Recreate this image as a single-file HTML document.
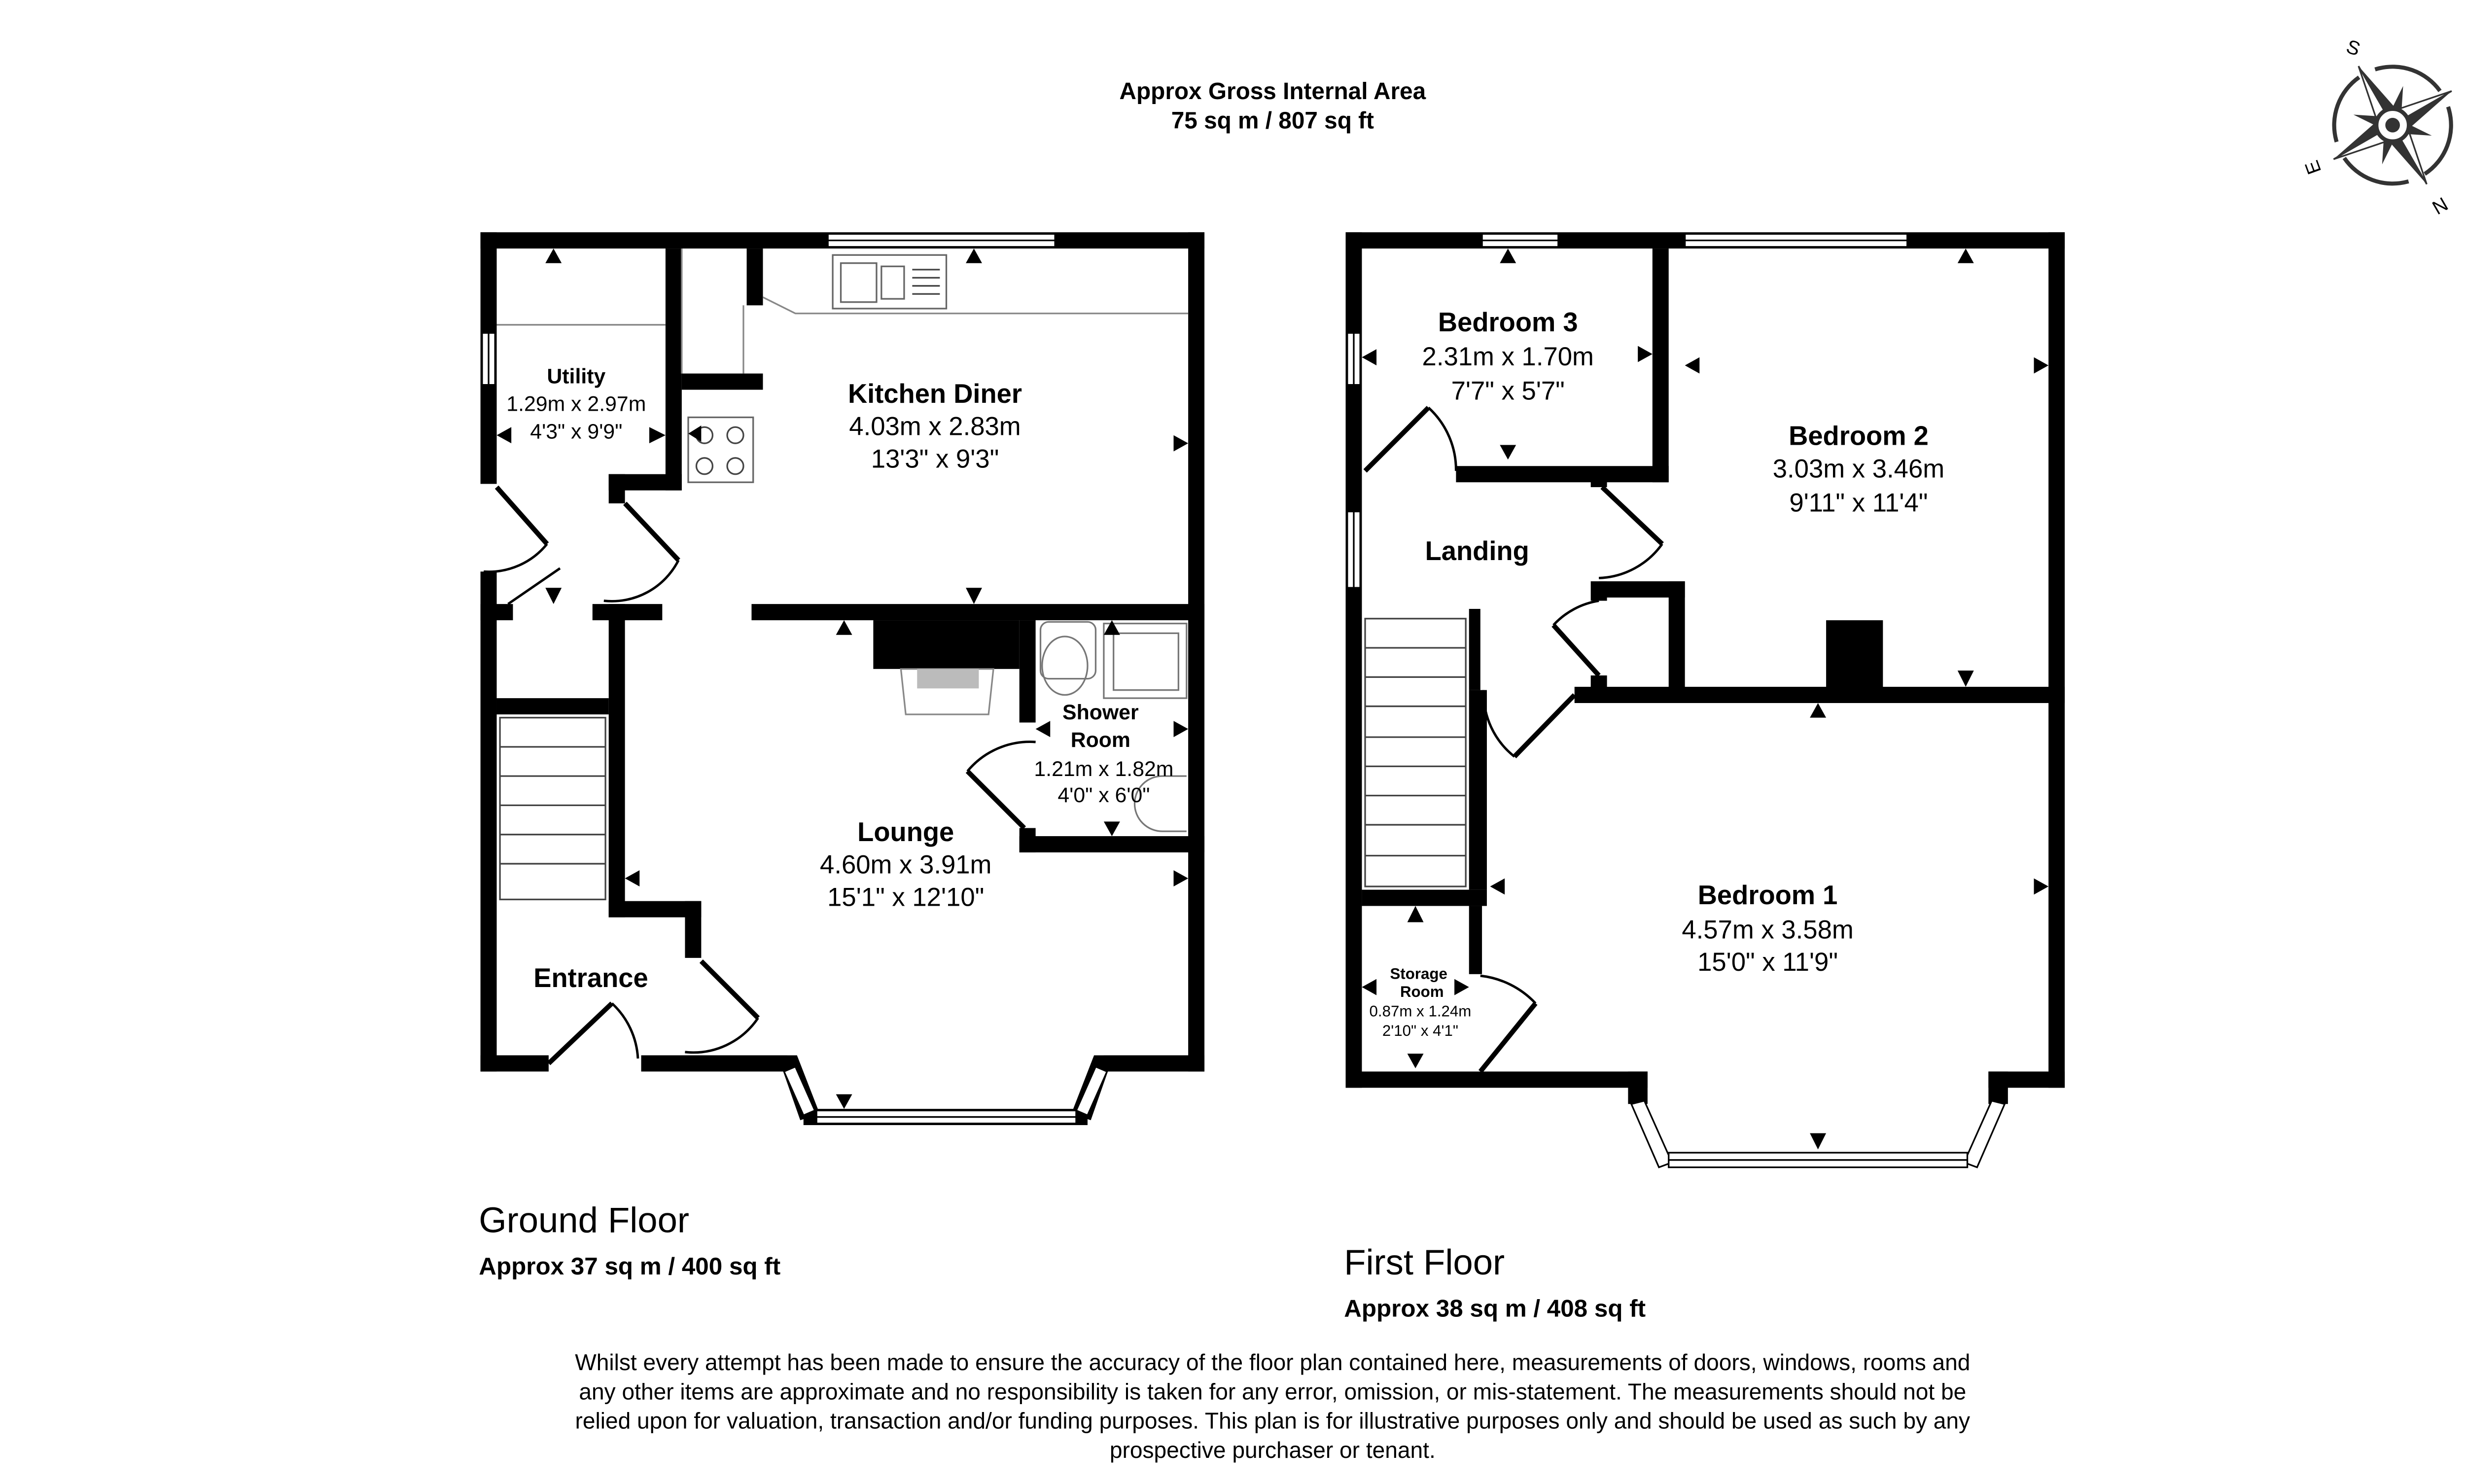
<!DOCTYPE html>
<html><head><meta charset="utf-8"><style>
html,body{margin:0;padding:0;background:#fff}
svg{display:block}
text{font-family:"Liberation Sans",Arial,sans-serif;fill:#000}
.b{font-weight:bold}
</style></head><body>
<svg width="5110" height="3010" viewBox="0 0 1552 914" xmlns="http://www.w3.org/2000/svg">
<rect width="1552" height="914" fill="#fff"/>

<text x="784" y="61" font-size="14.5" class="b" text-anchor="middle">Approx Gross Internal Area</text>
<text x="784" y="79" font-size="14.5" class="b" text-anchor="middle">75 sq m / 807 sq ft</text>

<g transform="translate(1474,77)">
 <g transform="rotate(150)" fill="#333">
  <path d="M0,-42 L7,-7 L0,0 Z"/><path d="M0,-42 L-7,-7 L0,0 Z" fill="#fff" stroke="#333" stroke-width="1"/>
  <path d="M0,42 L-7,7 L0,0 Z"/><path d="M0,42 L7,7 L0,0 Z" fill="#fff" stroke="#333" stroke-width="1"/>
  <path d="M42,0 L7,7 L0,0 Z"/><path d="M42,0 L7,-7 L0,0 Z" fill="#fff" stroke="#333" stroke-width="1"/>
  <path d="M-42,0 L-7,-7 L0,0 Z"/><path d="M-42,0 L-7,7 L0,0 Z" fill="#fff" stroke="#333" stroke-width="1"/>
  <g transform="rotate(45)"><path d="M0,-25 L5,0 L0,25 L-5,0Z"/><path d="M-25,0 L0,5 L25,0 L0,-5Z"/></g>
 </g>
 <circle r="36" fill="none" stroke="#333" stroke-width="2.5" stroke-dasharray="45 11" transform="rotate(-15)"/>
 <circle r="10" fill="#fff" stroke="#333" stroke-width="2.5"/><circle r="4.5" fill="#333"/>
 <text x="-28" y="-45" font-size="12" fill="#333" transform="rotate(20 -28 -49)">S</text>
 <text x="46" y="-23" font-size="12" fill="#333" transform="rotate(60 48 -27)">W</text>
 <text x="25" y="54" font-size="12" fill="#333" transform="rotate(-30 29 50)">N</text>
 <text x="-53" y="30" font-size="12" fill="#333" transform="rotate(-110 -49 26)">E</text>
</g>

<g fill="#000">
 <rect x="296" y="143" width="446" height="10"/>
 <rect x="296" y="143" width="10" height="155"/>
 <rect x="296" y="352" width="10" height="308"/>
 <rect x="732" y="143" width="10" height="517"/>
 <rect x="296" y="650" width="42" height="10"/>
 <rect x="395" y="650" width="90" height="10"/>
 <rect x="680" y="650" width="62" height="10"/>
 <polygon points="479,650 491,650 505,686 493,690"/>
 <polygon points="686,650 674,650 660,686 672,690"/>
 <rect x="495" y="683" width="175" height="10"/>
 <rect x="410" y="153" width="10" height="149"/>
 <rect x="375" y="292" width="45" height="10"/>
 <rect x="375" y="292" width="10" height="18"/>
 <rect x="420" y="230" width="50" height="10"/>
 <rect x="460" y="153" width="10" height="35"/>
 <rect x="296" y="372" width="20" height="10"/>
 <rect x="365" y="372" width="43" height="10"/>
 <rect x="375" y="372" width="10" height="193"/>
 <rect x="375" y="555" width="57" height="10"/>
 <rect x="422" y="555" width="10" height="35"/>
 <rect x="306" y="430" width="69" height="10"/>
 <rect x="463" y="372" width="279" height="10"/>
 <rect x="538" y="382" width="90" height="30"/>
 <rect x="628" y="382" width="10" height="63"/>
 <rect x="628" y="510" width="10" height="15"/>
 <rect x="628" y="515" width="114" height="10"/>
</g>
<g fill="#fff" stroke="#000" stroke-width="1">
 <rect x="510" y="144" width="140" height="8"/><line x1="510" y1="148" x2="650" y2="148"/>
 <rect x="297" y="205" width="8" height="32"/><line x1="301" y1="205" x2="301" y2="237"/>
 <rect x="503" y="684" width="160" height="8"/><line x1="503" y1="688" x2="663" y2="688"/>
 <polygon points="483,660 490,657 502,684 495,687"/>
 <polygon points="682,660 675,657 663,684 670,687"/>
</g>
<g stroke="#444" stroke-width="1" fill="none">
 <rect x="308" y="442" width="65" height="112"/>
 <line x1="308" y1="460" x2="373" y2="460"/><line x1="308" y1="478" x2="373" y2="478"/>
 <line x1="308" y1="496" x2="373" y2="496"/><line x1="308" y1="514" x2="373" y2="514"/>
 <line x1="308" y1="532" x2="373" y2="532"/>
 <line x1="306" y1="200" x2="410" y2="200" stroke="#888"/>
 <line x1="420" y1="153" x2="420" y2="230" stroke="#888"/>
 <line x1="458" y1="188" x2="458" y2="230" stroke="#888"/>
 <path d="M470,183 L490,193 L732,193" stroke="#888"/>
 <rect x="513" y="157" width="70" height="33" stroke="#666"/>
 <rect x="518" y="162" width="22" height="24" stroke="#666"/>
 <rect x="543" y="164" width="14" height="20" stroke="#666"/>
 <line x1="562" y1="166" x2="579" y2="166"/><line x1="562" y1="171" x2="579" y2="171"/><line x1="562" y1="176" x2="579" y2="176"/><line x1="562" y1="181" x2="579" y2="181"/>
 <rect x="424" y="257" width="40" height="40" stroke="#666"/>
 <circle cx="434" cy="268" r="5"/><circle cx="453" cy="268" r="5"/><circle cx="434" cy="287" r="5"/><circle cx="453" cy="287" r="5"/>
 <path d="M555,412 L612,412 L609,440 L558,440 Z" stroke="#888"/>
 <rect x="641" y="383" width="34" height="35" rx="5" stroke="#777"/>
 <ellipse cx="656" cy="410" rx="14" ry="18" stroke="#777"/>
 <rect x="680" y="384" width="51" height="46" stroke="#777"/>
 <rect x="686" y="390" width="40" height="35" stroke="#777"/>
 <path d="M731,478 L716,478 A14,14 0 0 0 716,512 L731,512" stroke="#777"/>
</g>
<rect x="565" y="412" width="38" height="12" fill="#bbb"/>
<g stroke="#000" fill="none">
 <line x1="306" y1="300" x2="337" y2="335" stroke-width="3"/>
 <path d="M337,335 A46,46 0 0 1 298,352" stroke-width="1.5"/>
 <line x1="385" y1="310" x2="418" y2="345" stroke-width="3"/>
 <path d="M418,345 A46,46 0 0 1 372,370" stroke-width="1.5"/>
 <path d="M313,372 L345,350" stroke-width="1.5"/>
 <line x1="432" y1="592" x2="467" y2="627" stroke-width="3"/>
 <path d="M467,627 A48,48 0 0 1 422,648" stroke-width="1.5"/>
 <line x1="338" y1="655" x2="377" y2="618" stroke-width="3"/>
 <path d="M377,618 A50,50 0 0 1 393,652" stroke-width="1.5"/>
 <line x1="631" y1="510" x2="596" y2="475" stroke-width="3"/>
 <path d="M596,475 A50,50 0 0 1 638,457" stroke-width="1.5"/>
</g>
<g fill="#000">
 <polygon points="336,162 346,162 341,153"/>
 <polygon points="595,162 605,162 600,153"/>
 <polygon points="400,263 400,273 410,268"/>
 <polygon points="315,263 315,273 306,268"/>
 <polygon points="723,268 723,278 732,273"/>
 <polygon points="432,262 432,272 424,267"/>
 <polygon points="595,362 605,362 600,372"/>
 <polygon points="336,362 346,362 341,372"/>
 <polygon points="515,391 525,391 520,382"/>
 <polygon points="680,391 690,391 685,382"/>
 <polygon points="647,444 647,454 638,449"/>
 <polygon points="723,444 723,454 732,449"/>
 <polygon points="680,506 690,506 685,515"/>
 <polygon points="394,536 394,546 385,541"/>
 <polygon points="723,536 723,546 732,541"/>
 <polygon points="515,674 525,674 520,683"/>
</g>
<g text-anchor="middle">
 <text x="355" y="236" font-size="13" class="b">Utility</text>
 <text x="355" y="253" font-size="13">1.29m x 2.97m</text>
 <text x="355" y="270" font-size="13">4'3" x 9'9"</text>
 <text x="576" y="248" font-size="16.5" class="b">Kitchen Diner</text>
 <text x="576" y="268" font-size="16">4.03m x 2.83m</text>
 <text x="576" y="288" font-size="16">13'3" x 9'3"</text>
 <text x="678" y="443" font-size="13" class="b">Shower</text>
 <text x="678" y="460" font-size="13" class="b">Room</text>
 <text x="680" y="478" font-size="13">1.21m x 1.82m</text>
 <text x="680" y="494" font-size="13">4'0" x 6'0"</text>
 <text x="558" y="518" font-size="16.5" class="b">Lounge</text>
 <text x="558" y="538" font-size="16">4.60m x 3.91m</text>
 <text x="558" y="558" font-size="16">15'1" x 12'10"</text>
 <text x="364" y="608" font-size="16.5" class="b">Entrance</text>
</g>
<text x="295" y="759" font-size="22">Ground Floor</text>
<text x="295" y="785" font-size="15" class="b">Approx 37 sq m / 400 sq ft</text>

<g fill="#000">
 <rect x="829" y="143" width="443" height="10"/>
 <rect x="829" y="143" width="10" height="527"/>
 <rect x="1262" y="143" width="10" height="527"/>
 <rect x="829" y="660" width="186" height="10"/>
 <rect x="1225" y="660" width="47" height="10"/>
 <rect x="1003" y="660" width="12" height="20"/>
 <rect x="1225" y="660" width="12" height="20"/>
 <rect x="1018" y="153" width="10" height="144"/>
 <rect x="897" y="287" width="131" height="10"/>
 <rect x="980" y="290" width="10" height="10"/>
 <rect x="985" y="358" width="53" height="10"/>
 <rect x="1028" y="358" width="10" height="70"/>
 <rect x="980" y="358" width="10" height="12"/>
 <rect x="980" y="416" width="10" height="10"/>
 <rect x="970" y="423" width="302" height="10"/>
 <rect x="1125" y="382" width="35" height="45"/>
 <rect x="905" y="375" width="7" height="50"/>
 <rect x="905" y="425" width="11" height="123"/>
 <rect x="839" y="548" width="77" height="10"/>
 <rect x="905" y="558" width="8" height="42"/>
</g>
<g fill="#fff" stroke="#000" stroke-width="1">
 <rect x="913" y="144" width="47" height="8"/><line x1="913" y1="148" x2="960" y2="148"/>
 <rect x="1038" y="144" width="137" height="8"/><line x1="1038" y1="148" x2="1175" y2="148"/>
 <rect x="830" y="205" width="8" height="32"/><line x1="834" y1="205" x2="834" y2="237"/>
 <rect x="830" y="315" width="8" height="47"/><line x1="834" y1="315" x2="834" y2="362"/>
 <polygon points="1005,680 1013,678 1030,716 1022,719"/>
 <polygon points="1235,680 1227,678 1210,716 1218,719"/>
 <rect x="1028" y="710" width="184" height="9"/><line x1="1028" y1="714.5" x2="1212" y2="714.5"/>
</g>
<g stroke="#444" stroke-width="1" fill="none">
 <rect x="841" y="381" width="62" height="165"/>
 <line x1="841" y1="399" x2="903" y2="399"/><line x1="841" y1="417" x2="903" y2="417"/>
 <line x1="841" y1="435" x2="903" y2="435"/><line x1="841" y1="454" x2="903" y2="454"/>
 <line x1="841" y1="472" x2="903" y2="472"/><line x1="841" y1="490" x2="903" y2="490"/>
 <line x1="841" y1="508" x2="903" y2="508"/><line x1="841" y1="527" x2="903" y2="527"/>
</g>
<g stroke="#000" fill="none">
 <line x1="841" y1="290" x2="880" y2="251" stroke-width="3"/>
 <path d="M880,251 A52,52 0 0 1 897,290" stroke-width="1.5"/>
 <line x1="987" y1="300" x2="1024" y2="335" stroke-width="3"/>
 <path d="M1024,335 A50,50 0 0 1 985,356" stroke-width="1.5"/>
 <line x1="985" y1="416" x2="957" y2="385" stroke-width="3"/>
 <path d="M957,385 A48,48 0 0 1 985,370" stroke-width="1.5"/>
 <line x1="970" y1="428" x2="933" y2="466" stroke-width="3"/>
 <path d="M933,466 A50,50 0 0 1 914,425" stroke-width="1.5"/>
 <line x1="912" y1="660" x2="946" y2="618" stroke-width="3"/>
 <path d="M946,618 A55,55 0 0 0 912,601" stroke-width="1.5"/>
</g>
<g fill="#000">
 <polygon points="924,162 934,162 929,153"/>
 <polygon points="1206,162 1216,162 1211,153"/>
 <polygon points="848,215 848,225 839,220"/>
 <polygon points="1009,213 1009,223 1018,218"/>
 <polygon points="1047,220 1047,230 1038,225"/>
 <polygon points="1253,220 1253,230 1262,225"/>
 <polygon points="924,274 934,274 929,283"/>
 <polygon points="1206,413 1216,413 1211,423"/>
 <polygon points="1115,442 1125,442 1120,433"/>
 <polygon points="927,541 927,551 918,546"/>
 <polygon points="1253,541 1253,551 1262,546"/>
 <polygon points="867,568 877,568 872,558"/>
 <polygon points="848,603 848,613 839,608"/>
 <polygon points="896,603 896,613 905,608"/>
 <polygon points="867,649 877,649 872,658"/>
 <polygon points="1115,698 1125,698 1120,708"/>
</g>
<g text-anchor="middle">
 <text x="929" y="204" font-size="16.5" class="b">Bedroom 3</text>
 <text x="929" y="225" font-size="16">2.31m x 1.70m</text>
 <text x="929" y="246" font-size="16">7'7" x 5'7"</text>
 <text x="1145" y="274" font-size="16.5" class="b">Bedroom 2</text>
 <text x="1145" y="294" font-size="16">3.03m x 3.46m</text>
 <text x="1145" y="315" font-size="16">9'11" x 11'4"</text>
 <text x="910" y="345" font-size="16.5" class="b">Landing</text>
 <text x="1089" y="557" font-size="16.5" class="b">Bedroom 1</text>
 <text x="1089" y="578" font-size="16">4.57m x 3.58m</text>
 <text x="1089" y="598" font-size="16">15'0" x 11'9"</text>
 <text x="874" y="603" font-size="9.5" class="b">Storage</text>
 <text x="876" y="614" font-size="9.5" class="b">Room</text>
 <text x="875" y="626" font-size="9.5">0.87m x 1.24m</text>
 <text x="875" y="638" font-size="9.5">2'10" x 4'1"</text>
</g>
<text x="828" y="785" font-size="22">First Floor</text>
<text x="828" y="811" font-size="15" class="b">Approx 38 sq m / 408 sq ft</text>

<g text-anchor="middle" font-size="14">
 <text x="784" y="844">Whilst every attempt has been made to ensure the accuracy of the floor plan contained here, measurements of doors, windows, rooms and</text>
 <text x="784" y="862">any other items are approximate and no responsibility is taken for any error, omission, or mis-statement. The measurements should not be</text>
 <text x="784" y="880">relied upon for valuation, transaction and/or funding purposes. This plan is for illustrative purposes only and should be used as such by any</text>
 <text x="784" y="898">prospective purchaser or tenant.</text>
</g>
</svg>
</body></html>
